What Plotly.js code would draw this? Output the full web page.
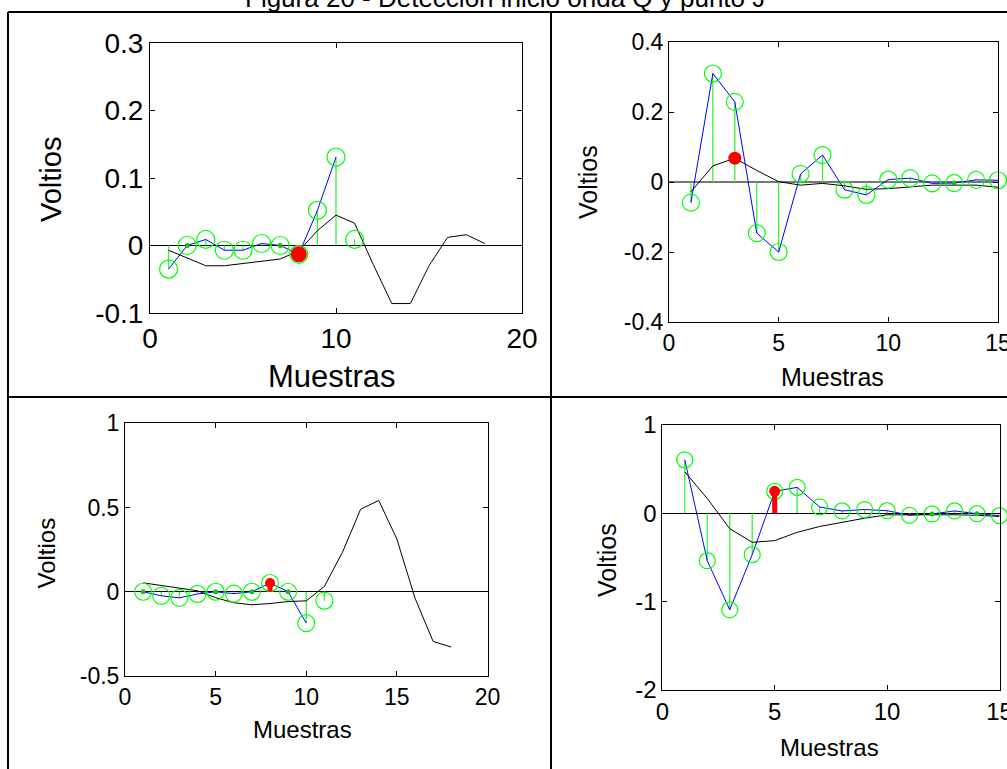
<!DOCTYPE html>
<html>
<head>
<meta charset="utf-8">
<script src="https://cdn.plot.ly/plotly-3.0.1.min.js"></script>
<style>html,body{margin:0;padding:0;background:#fff;}#chart{width:1007px;height:769px;}</style>
</head>
<body>
<div id="chart"></div>
<script>
// ---------------- DATA ----------------
const chartTitle = 'Figura 20 - Detección inicio onda Q y punto J';
const xLabel = 'Muestras';
const yLabel = 'Voltios';

// Top-left panel
const tlStem  = [-0.035, 0.000, 0.009, -0.007, -0.007, 0.003, 0.000, -0.013, 0.052, 0.131, 0.009];
const tlBlue  = [-0.035, 0.000, 0.009, -0.007, -0.007, 0.003, 0.000, -0.013, 0.052, 0.131];
const tlBlack = [-0.007, -0.019, -0.030, -0.030, -0.027, -0.024, -0.020, -0.008, 0.022, 0.045, 0.033, -0.028, -0.086, -0.086, -0.030, 0.012, 0.016, 0.003];
const tlDots  = [2, 7];
const tlMarkX = 8, tlMarkY = -0.013;
const tlXTicks = [0, 10, 20], tlXText = ['0', '10', '20'];
const tlYTicks = [-0.1, 0, 0.1, 0.2, 0.3], tlYText = ['-0.1', '0', '0.1', '0.2', '0.3'];

// Top-right panel
const trStem  = [-0.059, 0.310, 0.229, -0.146, -0.200, 0.023, 0.077, -0.022, -0.037, 0.007, 0.011, -0.004, -0.003, 0.006, 0.005];
const trBlue  = [-0.059, 0.310, 0.229, -0.146, -0.200, 0.023, 0.077, -0.022, -0.037, 0.007, 0.011, -0.004, -0.003, 0.006, 0.005];
const trBlack = [-0.028, 0.046, 0.068, 0.033, 0.001, -0.009, -0.004, -0.011, -0.021, -0.019, -0.014, -0.009, -0.009, -0.009, -0.015];
const trDots  = [13];
const trMarkX = 3, trMarkY = 0.068;
const trXTicks = [0, 5, 10, 15], trXText = ['0', '5', '10', '15'];
const trYTicks = [-0.4, -0.2, 0, 0.2, 0.4], trYText = ['-0.4', '-0.2', '0', '0.2', '0.4'];

// Bottom-left panel
const blStem  = [0.000, -0.024, -0.036, -0.013, 0.000, -0.011, 0.000, 0.052, 0.000, -0.186, -0.053];
const blBlue  = [0.000, -0.024, -0.036, -0.013, 0.000, -0.011, 0.000, 0.052, 0.000, -0.186];
const blBlack = [0.053, 0.036, 0.023, 0.006, -0.035, -0.065, -0.077, -0.070, -0.058, -0.054, 0.032, 0.235, 0.490, 0.542, 0.313, -0.038, -0.295, -0.328];
const blDots  = [1, 5, 7, 9];
const blMarkX = 8, blMarkY = 0.052;
const blXTicks = [0, 5, 10, 15, 20], blXText = ['0', '5', '10', '15', '20'];
const blYTicks = [-0.5, 0, 0.5, 1], blYText = ['-0.5', '0', '0.5', '1'];

// Bottom-right panel
const brStem  = [0.606, -0.536, -1.092, -0.468, 0.249, 0.294, 0.072, 0.027, 0.043, 0.030, -0.022, -0.007, 0.027, -0.004, -0.026];
const brBlue  = [0.606, -0.536, -1.092, -0.468, 0.249, 0.294, 0.072, 0.027, 0.043, 0.030, -0.022, -0.007, 0.027, -0.004, -0.026];
const brBlack = [0.470, 0.168, -0.174, -0.328, -0.309, -0.215, -0.149, -0.102, -0.055, -0.017, -0.016, -0.016, -0.016, -0.022, -0.035];
const brDots  = [12, 14];
const brMarkX = 5, brMarkY = 0.249;
const brXTicks = [0, 5, 10, 15], brXText = ['0', '5', '10', '15'];
const brYTicks = [-2, -1, 0, 1], brYText = ['-2', '-1', '0', '1'];

// ---------------- BUILD ----------------
const FONT = '"Liberation Sans", Arial, Helvetica, sans-serif';
const W = 1007, H = 769;
const PX = x => x / W;
const PY = y => 1 - y / H;
const idx = arr => arr.map((_, i) => i + 1);

const panels = [
  {id: '', stem: tlStem, blue: tlBlue, black: tlBlack, dots: tlDots, mx: tlMarkX, my: tlMarkY, redStem: false, markSize: 16,
   xr: [0, 20], yr: [-0.1, 0.3], xt: tlXTicks, xtt: tlXText, yt: tlYTicks, ytt: tlYText,
   dom: [150, 522, 43, 313], tick: 28, circ: 18, zc: '#000', zw: 1},
  {id: '2', stem: trStem, blue: trBlue, black: trBlack, dots: trDots, mx: trMarkX, my: trMarkY, redStem: false, markSize: 13,
   xr: [0, 15], yr: [-0.4, 0.4], xt: trXTicks, xtt: trXText, yt: trYTicks, ytt: trYText,
   dom: [669, 998, 42, 322], tick: 23, circ: 17, zc: '#777', zw: 2},
  {id: '3', stem: blStem, blue: blBlue, black: blBlack, dots: blDots, mx: blMarkX, my: blMarkY, redStem: true, markSize: 10,
   xr: [0, 20], yr: [-0.5, 1], xt: blXTicks, xtt: blXText, yt: blYTicks, ytt: blYText,
   dom: [125, 487.5, 423.3, 676], tick: 23, circ: 17, zc: '#000', zw: 1},
  {id: '4', stem: brStem, blue: brBlue, black: brBlack, dots: brDots, mx: brMarkX, my: brMarkY, redStem: true, markSize: 11,
   xr: [0, 15], yr: [-2, 1], xt: brXTicks, xtt: brXText, yt: brYTicks, ytt: brYText,
   dom: [662.3, 999.5, 425, 690], tick: 24, circ: 16, zc: '#000', zw: 1}
];

const data = [];
const layout = {
  width: W, height: H,
  margin: {l: 0, r: 0, t: 0, b: 0},
  paper_bgcolor: '#fff', plot_bgcolor: '#fff',
  showlegend: false,
  font: {family: FONT, color: '#000'},
  annotations: [], shapes: []
};

panels.forEach(p => {
  const xa = 'x' + p.id, ya = 'y' + p.id;
  // stems
  const sx = [], sy = [];
  p.stem.forEach((v, i) => { sx.push(i + 1, i + 1, null); sy.push(0, v, null); });
  data.push({x: sx, y: sy, xaxis: xa, yaxis: ya, mode: 'lines', type: 'scatter',
             line: {color: '#3cf03c', width: 1.3}, hoverinfo: 'skip'});
  // blue line
  data.push({x: idx(p.blue), y: p.blue, xaxis: xa, yaxis: ya, mode: 'lines', type: 'scatter',
             line: {color: '#0000ff', width: 1}});
  // black line
  data.push({x: idx(p.black), y: p.black, xaxis: xa, yaxis: ya, mode: 'lines', type: 'scatter',
             line: {color: '#000000', width: 1}});
  // circles
  data.push({x: idx(p.stem), y: p.stem, xaxis: xa, yaxis: ya, mode: 'markers', type: 'scatter', cliponaxis: false,
             marker: {symbol: 'circle-open', size: p.circ, color: '#00ff00', line: {width: 1.2, color: '#00ff00'}}});
  // filled dots
  data.push({x: p.dots, y: p.dots.map(d => p.stem[d - 1]), xaxis: xa, yaxis: ya, mode: 'markers', type: 'scatter',
             marker: {symbol: 'circle', size: 5, color: '#00cc00'}});
  // red detection mark
  if (p.redStem) {
    data.push({x: [p.mx, p.mx], y: [0, p.my], xaxis: xa, yaxis: ya, mode: 'lines', type: 'scatter',
               line: {color: '#ff0000', width: 5}});
  }
  data.push({x: [p.mx], y: [p.my], xaxis: xa, yaxis: ya, mode: 'markers', type: 'scatter', cliponaxis: false,
             marker: {symbol: 'circle', size: p.markSize, color: '#ff0000'}});

  const [x0, x1, y0, y1] = p.dom;
  const common = {showgrid: false, showline: true, linecolor: '#000', linewidth: 1, mirror: 'ticks',
                  ticks: 'inside', ticklen: 5, tickwidth: 1, tickcolor: '#000',
                  tickmode: 'array', fixedrange: true, ticklabeloverflow: 'allow',
                  tickfont: {family: FONT, size: p.tick, color: '#000'}};
  layout['xaxis' + p.id] = Object.assign({}, common, {
    domain: [PX(x0), PX(x1)], range: p.xr, anchor: ya, zeroline: false,
    tickvals: p.xt, ticktext: p.xtt});
  layout['yaxis' + p.id] = Object.assign({}, common, {
    domain: [PY(y1), PY(y0)], range: p.yr, anchor: xa, zeroline: true,
    zerolinecolor: p.zc, zerolinewidth: p.zw,
    tickvals: p.yt, ticktext: p.ytt});
});

// axis titles (positioned as in the reference)
const titles = [
  {t: xLabel, x: 331.5, y: 376, s: 31, a: 0},
  {t: yLabel, x: 51, y: 180, s: 29, a: -90},
  {t: xLabel, x: 832, y: 377, s: 25, a: 0},
  {t: yLabel, x: 588, y: 182, s: 25, a: -90},
  {t: xLabel, x: 302, y: 729, s: 24, a: 0},
  {t: yLabel, x: 45.5, y: 553, s: 24, a: -90},
  {t: xLabel, x: 829, y: 747, s: 24, a: 0},
  {t: yLabel, x: 607, y: 560, s: 25, a: -90}
];
titles.forEach(o => layout.annotations.push({
  text: o.t, xref: 'paper', yref: 'paper', x: PX(o.x), y: PY(o.y), xanchor: 'center', yanchor: 'middle',
  textangle: o.a, showarrow: false, font: {family: FONT, size: o.s, color: '#000'}
}));
// figure title (partly above the top edge, as in the reference)
layout.annotations.push({
  text: chartTitle, xref: 'paper', yref: 'paper', x: PX(504.5), y: PY(15), xanchor: 'center', yanchor: 'bottom',
  showarrow: false, font: {family: FONT, size: 26, color: '#000'}
});

// frame lines
const frame = {type: 'line', xref: 'paper', yref: 'paper', line: {color: '#000', width: 2}};
layout.shapes.push(Object.assign({}, frame, {x0: PX(8), x1: PX(8), y0: PY(12), y1: PY(780)}));
layout.shapes.push(Object.assign({}, frame, {x0: PX(8), x1: PX(1015), y0: PY(12), y1: PY(12)}));
layout.shapes.push(Object.assign({}, frame, {x0: PX(551), x1: PX(551), y0: PY(12), y1: PY(780)}));
layout.shapes.push(Object.assign({}, frame, {x0: PX(8), x1: PX(1015), y0: PY(397), y1: PY(397)}));

Plotly.newPlot('chart', data, layout, {staticPlot: true, displayModeBar: false});
</script>
</body>
</html>
